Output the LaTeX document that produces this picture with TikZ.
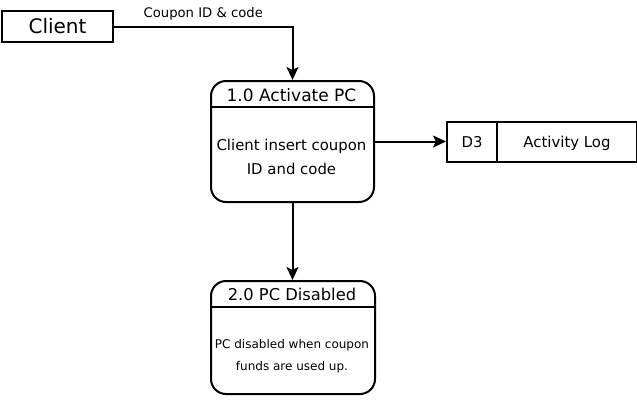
\documentclass[tikz,border=0pt]{standalone}
\usepackage{fontspec}
\setmainfont{DejaVu Sans}
\usetikzlibrary{arrows.meta,positioning}
\begin{document}
\begin{tikzpicture}[x=1pt,y=-1pt,line width=2pt,
  arr/.style={-{Stealth[length=13pt,width=12pt,inset=3pt]}},
  boxstyle/.style={draw,rectangle,inner sep=0pt,anchor=north west,text depth=0pt},
  procbox/.style={draw,rectangle,rounded corners=15pt,inner sep=0pt,anchor=north west},
  txt/.style={inner sep=0pt,align=center}]
\useasboundingbox (0,0) rectangle (637,402);
% external entity
\node[boxstyle,minimum width=111pt,minimum height=31pt,text height=14.6pt,font=\fontsize{20}{22}\selectfont] (client) at (1,10) {Client};
% process 1
\node[procbox,minimum width=163pt,minimum height=121pt] (p1) at (210,80) {};
\coordinate (p1hl) at (210,107);
\coordinate (p1hr) at (373,107);
\draw (p1hl) -- (p1hr);
\node[txt,font=\fontsize{17}{19}\selectfont] (p1title) at (291.5,95.5) {1.0 Activate PC};
\node[txt,font=\fontsize{14.9}{24}\selectfont] (p1body) at (291.5,156.5) {Client insert coupon\\ID and code};
% process 2
\node[procbox,minimum width=164pt,minimum height=113pt] (p2) at (210,280) {};
\coordinate (p2hl) at (210,307);
\coordinate (p2hr) at (374,307);
\draw (p2hl) -- (p2hr);
\node[txt,font=\fontsize{16.3}{19}\selectfont] (p2title) at (292,294.5) {2.0 PC Disabled};
\node[txt,font=\fontsize{12}{22}\selectfont] (p2body) at (292,356) {PC disabled when coupon\\funds are used up.};
% data store
\node[boxstyle,minimum width=50pt,minimum height=40pt,text height=10.9pt,font=\fontsize{14.9}{17}\selectfont] (d3) at (446,121) {D3};
\node[boxstyle,minimum width=140pt,minimum height=40pt,text height=10.9pt,font=\fontsize{14.9}{17}\selectfont] (log) at (496,121) {Activity Log};
% connectors
\draw[arr] (client.east) -| node[pos=0.25,above,inner sep=5pt,font=\fontsize{13.2}{15}\selectfont] {Coupon ID \& code} (p1.north);
\draw[arr] (p1.east) -- (p1.east -| d3.west);
\draw[arr] (p1.south) -- (p1.south |- p2.north);
\end{tikzpicture}
\end{document}
